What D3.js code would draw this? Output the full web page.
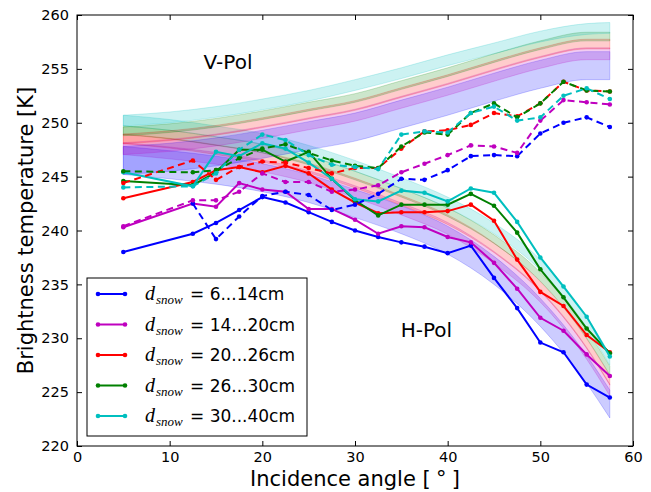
<!DOCTYPE html>
<meta charset="utf-8">
<style>

body { margin: 0; background: #fff; }

.axis text { font: 14.5px "DejaVu Sans", sans-serif; fill: #000; }

.axis line { stroke: #000; }

.label { font: 20px "DejaVu Sans", sans-serif; fill: #000; }

.line {
  fill: none;
  stroke-width: 2px;
}

</style>
<body>

<!-- load the d3.js library -->
<script src="https://d3js.org/d3.v7.min.js"></script>

<script>

// measured incidence angles [deg]
var angles = [5, 12.5, 15, 17.5, 20, 22.5, 25, 27.5, 30, 32.5, 35, 37.5, 40, 42.5, 45, 47.5, 50, 52.5, 55, 57.5];

// H-pol measurements (solid lines)
var hBlue    = [238.0, 239.7, 240.7, 241.9, 243.1, 242.6, 241.7, 240.8, 240.0, 239.4, 238.9, 238.5, 237.9, 238.6, 235.6, 232.8, 229.6, 228.7, 225.7, 224.5];
var hMagenta = [240.3, 242.5, 242.2, 244.4, 243.8, 243.6, 242.0, 242.0, 241.0, 239.7, 240.4, 240.3, 239.4, 238.9, 237.0, 234.6, 231.9, 230.7, 228.5, 226.5];
var hRed     = [243.0, 244.5, 245.6, 245.9, 245.4, 246.0, 245.3, 243.8, 242.6, 241.6, 241.7, 241.7, 241.8, 242.4, 240.9, 237.3, 234.3, 233.0, 230.3, 228.7];
var hGreen   = [244.6, 244.2, 245.4, 247.5, 247.5, 246.4, 247.3, 244.8, 242.8, 241.4, 242.4, 242.4, 242.4, 243.4, 242.3, 239.8, 236.4, 233.8, 230.9, 228.6];
var hCyan    = [245.4, 244.1, 247.3, 246.9, 248.1, 247.6, 246.3, 244.8, 242.9, 242.7, 243.7, 243.5, 242.7, 243.9, 243.5, 240.8, 237.5, 234.8, 232.0, 228.3];

// V-pol measurements (dashed lines), null = no value
var vBlue    = [null, 242.5, 239.2, 241.3, 243.2, 243.6, 243.3, 241.9, 242.4, 243.4, 244.8, 244.7, 245.6, 246.9, 247.0, 246.9, 249.0, 250.0, 250.5, 249.6];
var vMagenta = [240.4, 242.8, 242.8, 243.6, 245.3, 244.5, 244.5, 243.6, 243.8, 244.2, 245.4, 246.2, 247.0, 247.9, 247.8, 247.2, 250.2, 252.1, 251.9, 251.7];
var vRed     = [244.4, 246.5, 244.7, 245.9, 246.4, 246.3, 245.8, 245.3, 245.8, 245.8, 247.6, 249.2, 249.3, 249.8, 250.9, 250.6, 251.8, 253.8, 253.0, 252.9];
var vGreen   = [245.5, 245.4, 245.6, 246.7, 247.6, 248.0, 247.2, 246.5, 246.0, 245.8, 247.8, 249.1, 248.9, 250.9, 251.8, 250.5, 251.8, 253.8, 253.0, 252.9];
var vCyan    = [244.0, 244.1, 245.3, 247.5, 248.9, 248.4, 247.0, 246.1, 245.9, 245.7, 248.9, 249.2, 249.1, 250.9, 251.5, 250.2, 250.5, 252.5, 253.2, 252.2];

// model angles and band centres
var modelAngles = [5, 10, 15, 20, 25, 30, 35, 40, 45, 50, 55, 57.5];

var mvBlue    = [246.5, 246.8, 247.3, 248.0, 248.8, 249.6, 250.8, 252.0, 253.3, 254.5, 255.3, 255.3];
var mvMagenta = [247.6, 247.9, 248.4, 249.1, 249.9, 250.7, 251.9, 253.1, 254.4, 255.6, 256.4, 256.4];
var mvRed     = [248.5, 248.8, 249.3, 250.0, 250.8, 251.6, 252.8, 254.0, 255.3, 256.5, 257.3, 257.3];
var mvGreen   = [249.2, 249.5, 250.0, 250.7, 251.5, 252.3, 253.5, 254.7, 256.0, 257.2, 258.0, 258.0];
var mvCyan    = [250.2, 250.5, 251.0, 251.7, 252.5, 253.5, 254.6, 255.8, 256.9, 258.0, 258.7, 258.8];

var mhBlue    = [246.5, 246.1, 245.6, 244.9, 243.9, 242.5, 241.0, 239.1, 236.3, 232.4, 227.1, 223.9];
var mhMagenta = [247.6, 247.2, 246.7, 246.0, 245.0, 243.6, 242.0, 240.2, 237.5, 233.9, 228.6, 225.2];
var mhRed     = [248.5, 248.1, 247.5, 246.8, 245.8, 244.4, 242.8, 241.0, 238.4, 234.8, 229.5, 226.1];
var mhGreen   = [249.3, 248.9, 248.3, 247.6, 246.5, 245.1, 243.5, 241.7, 239.2, 235.7, 230.4, 227.0];
var mhCyan    = [250.2, 249.8, 249.2, 248.5, 247.4, 246.0, 244.4, 242.6, 240.2, 236.8, 231.5, 228.0];

// half width of each model band (blue, magenta, red, green, cyan)
var bandHalf = [1.3, 0.55, 0.45, 0.4, 0.5];

var colors = ["#0000ff", "#bf00bf", "#ff0000", "#008000", "#00bfbf"];
var legendLabels = ["6...14cm", "14...20cm", "20...26cm", "26...30cm", "30...40cm"];

var xTicks = [0, 10, 20, 30, 40, 50, 60];
var yTicks = [220, 225, 230, 235, 240, 245, 250, 255, 260];

var hSeries = [hBlue, hMagenta, hRed, hGreen, hCyan];
var vSeries = [vBlue, vMagenta, vRed, vGreen, vCyan];
var mvSeries = [mvBlue, mvMagenta, mvRed, mvGreen, mvCyan];
var mhSeries = [mhBlue, mhMagenta, mhRed, mhGreen, mhCyan];

// set the dimensions and margins of the graph
var margin = {top: 15, right: 18, bottom: 46, left: 77},
    width = 651 - margin.left - margin.right,
    height = 492 - margin.top - margin.bottom;

var x = d3.scaleLinear().domain([0, 60]).range([0, width]);
var y = d3.scaleLinear().domain([220, 260]).range([height, 0]);

var svg = d3.select("body").append("svg")
    .attr("width", 651)
    .attr("height", 492)
  .append("g")
    .attr("transform", "translate(" + margin.left + "," + margin.top + ")");

// model bands (fill_between look: light fill, faint edge)
function drawBands(series) {
  series.forEach(function(vals, i) {
    var pts = modelAngles.map(function(a, j) { return {a: a, t: vals[j]}; });
    var area = d3.area()
        .curve(d3.curveMonotoneX)
        .x(function(d) { return x(d.a); })
        .y0(function(d) { return y(d.t - bandHalf[i]); })
        .y1(function(d) { return y(d.t + bandHalf[i]); });
    svg.append("path").datum(pts)
        .attr("d", area)
        .style("fill", colors[i])
        .style("fill-opacity", 0.2)
        .style("stroke", colors[i])
        .style("stroke-opacity", 0.2)
        .style("stroke-width", 1);
  });
}
drawBands(mhSeries);
drawBands(mvSeries);

// measured lines
function drawLines(series, dashed) {
  series.forEach(function(vals, i) {
    var pts = angles.map(function(a, j) { return {a: a, t: vals[j]}; })
        .filter(function(d) { return d.t != null; });
    var line = d3.line()
        .x(function(d) { return x(d.a); })
        .y(function(d) { return y(d.t); });
    svg.append("path").datum(pts)
        .attr("class", "line")
        .attr("d", line)
        .style("stroke", colors[i])
        .style("stroke-dasharray", dashed ? "7,4.5" : null);
    svg.selectAll(null).data(pts).enter().append("circle")
        .attr("cx", function(d) { return x(d.a); })
        .attr("cy", function(d) { return y(d.t); })
        .attr("r", 2.3)
        .style("fill", colors[i]);
  });
}
drawLines(hSeries, false);
drawLines(vSeries, true);

// axes with inward ticks on all sides
svg.append("g")
    .attr("class", "axis")
    .attr("transform", "translate(0," + height + ")")
    .call(d3.axisBottom(x).tickValues(xTicks).tickSize(-5).tickPadding(6))
    .call(function(g) { g.select(".domain").remove(); });

svg.append("g")
    .attr("class", "axis")
    .call(d3.axisTop(x).tickValues(xTicks).tickSize(-5).tickFormat(""))
    .call(function(g) { g.select(".domain").remove(); });

svg.append("g")
    .attr("class", "axis")
    .call(d3.axisLeft(y).tickValues(yTicks).tickSize(-5).tickPadding(8))
    .call(function(g) { g.select(".domain").remove(); });

svg.append("g")
    .attr("class", "axis")
    .attr("transform", "translate(" + width + ",0)")
    .call(d3.axisRight(y).tickValues(yTicks).tickSize(-5).tickFormat(""))
    .call(function(g) { g.select(".domain").remove(); });

svg.append("rect")
    .attr("width", width)
    .attr("height", height)
    .style("fill", "none")
    .style("stroke", "#000")
    .style("stroke-width", 1);

// annotations
svg.append("text").attr("class", "label")
    .attr("x", x(16.3)).attr("y", y(255.0))
    .attr("text-anchor", "middle")
    .text("V-Pol");

svg.append("text").attr("class", "label")
    .attr("x", x(37.7)).attr("y", y(230.15))
    .attr("text-anchor", "middle")
    .text("H-Pol");

// axis labels
svg.append("text").attr("class", "label")
    .attr("x", width / 2).attr("y", height + 40)
    .attr("text-anchor", "middle")
    .style("font-size", "21px")
    .text("Incidence angle [\u2005\u00b0\u2005]");

svg.append("text").attr("class", "label")
    .attr("transform", "translate(-44," + (height / 2) + ") rotate(-90)")
    .attr("text-anchor", "middle")
    .style("font-size", "21px")
    .text("Brightness temperature [K]");

// legend
var legend = svg.append("g").attr("transform", "translate(10,263)");
legend.append("rect")
    .attr("width", 220)
    .attr("height", 158)
    .style("fill", "#fff")
    .style("stroke", "#000")
    .style("stroke-width", 1);

colors.forEach(function(c, i) {
  var yy = 16 + i * 30.5;
  legend.append("line")
      .attr("x1", 11).attr("x2", 38)
      .attr("y1", yy).attr("y2", yy)
      .style("stroke", c).style("stroke-width", 2);
  legend.selectAll(null).data([11, 38]).enter().append("circle")
      .attr("cx", function(d) { return d; }).attr("cy", yy).attr("r", 2.3)
      .style("fill", c);
  legend.append("text")
      .attr("x", 58).attr("y", yy + 6)
      .style("font", "italic 20px 'Liberation Serif', serif")
      .text("d");
  legend.append("text")
      .attr("x", 69).attr("y", yy + 10)
      .style("font", "italic 13px 'Liberation Serif', serif")
      .text("snow");
  legend.append("text")
      .attr("x", 103).attr("y", yy + 6)
      .style("font", "17px 'DejaVu Sans', sans-serif")
      .text("= " + legendLabels[i]);
});

</script>
</body>
